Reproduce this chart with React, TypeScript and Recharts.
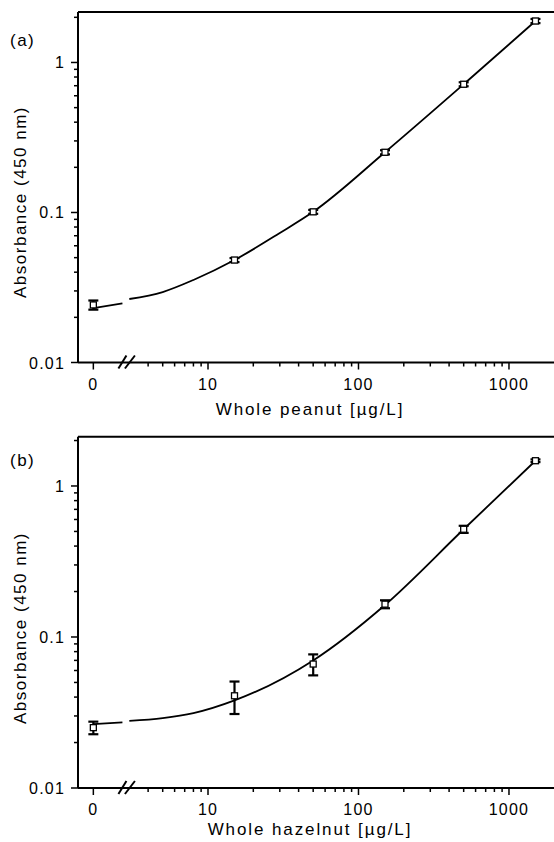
import React from 'react';
import { ComposedChart, Line, Scatter, ErrorBar, XAxis, YAxis, ReferenceLine, ReferenceDot } from 'recharts';

const FONT = '"Liberation Sans", Arial, Helvetica, sans-serif';

// concentrations in µg/L (0 sits left of the axis break)
const conc = [0, 15, 50, 150, 500, 1500];

// (a) whole peanut
const peanutMean = [0.0242, 0.0482, 0.101, 0.252, 0.716, 1.89];
const peanutSd = [0.0017, 0.0015, 0.003, 0.008, 0.022, 0.06];
const peanutFitX = [0, 2.7, 2.85, 3, 5, 8, 15, 30, 50, 150, 500, 1500];
const peanutFitY = [0.023, 0.0248, null, 0.0265, 0.0295, 0.0355, 0.0482, 0.073, 0.101, 0.252, 0.716, 1.89];

// (b) whole hazelnut
const hazelMean = [0.0251, 0.0408, 0.0662, 0.165, 0.517, 1.47];
const hazelSd = [0.0024, 0.0099, 0.0105, 0.01, 0.028, 0.03];
const hazelFitX = [0, 2.7, 2.85, 3, 5, 8, 15, 50, 150, 500, 1500];
const hazelFitY = [0.0265, 0.0272, null, 0.0278, 0.029, 0.0313, 0.038, 0.07, 0.163, 0.517, 1.47];

// axis ticks
const xMajor = [0, 10, 100, 1000];
const xMajorLabels = ['0', '10', '100', '1000'];
const xMinor = [4, 5, 6, 7, 8, 9, 20, 30, 40, 50, 60, 70, 80, 90, 200, 300, 400, 500, 600, 700, 800, 900];
const yMajor = [0.01, 0.1, 1];
const yMajorLabels = ['0.01', '0.1', '1'];
const yMinor = [0.02, 0.03, 0.04, 0.05, 0.06, 0.07, 0.08, 0.09, 0.2, 0.3, 0.4, 0.5, 0.6, 0.7, 0.8, 0.9, 2];

// where "0" is placed on the log axis, and where the break is
const ZERO_POS = 1.73;
const BREAK_AT = 2.87;
const X_DOMAIN = [1.368, 2183];

const pos = (c: number) => (c === 0 ? ZERO_POS : c);

const xTicks = [...xMajor.map(pos), ...xMinor];
const yTicks = [...yMajor, ...yMinor];

const XTick = (props: any) => {
  const { x, y, payload } = props;
  const i = xMajor.map(pos).indexOf(payload.value);
  const major = i >= 0;
  return (
    <g>
      <line x1={x} y1={y} x2={x} y2={y + (major ? 7 : 4)} stroke="#000" strokeWidth={1.5} />
      {major && (
        <text x={x} y={y + 27} textAnchor="middle" fontSize={16} fontFamily={FONT} letterSpacing={1.2} fill="#000">
          {xMajorLabels[i]}
        </text>
      )}
    </g>
  );
};

const YTick = (props: any) => {
  const { x, y, payload } = props;
  const i = yMajor.indexOf(payload.value);
  const major = i >= 0;
  return (
    <g>
      <line x1={x} y1={y} x2={x - (major ? 7 : 4)} y2={y} stroke="#000" strokeWidth={1.5} />
      {major && (
        <text x={x - 13} y={y + 6} textAnchor="end" fontSize={16} fontFamily={FONT} letterSpacing={1.2} fill="#000">
          {yMajorLabels[i]}
        </text>
      )}
    </g>
  );
};

const Square = (props: any) => {
  const { cx, cy } = props;
  if (cx == null || cy == null) return null;
  return <rect x={cx - 3} y={cy - 3} width={6} height={6} fill="#fff" stroke="#000" strokeWidth={1.3} />;
};

const BreakMark = (props: any) => {
  const { cx, cy } = props;
  return (
    <g stroke="#000" strokeWidth={2}>
      <line x1={cx - 8} y1={cy + 6} x2={cx} y2={cy - 7} />
      <line x1={cx - 1.5} y1={cy + 6} x2={cx + 8.5} y2={cy - 7} />
    </g>
  );
};

type PanelProps = {
  tag: string;
  title: string;
  mean: number[];
  sd: number[];
  fitX: number[];
  fitY: (number | null)[];
  yMax: number;
  height: number;
  top: number;
  bottom: number;
  yLabelCenter: number;
  titleOffset: number;
};

const Panel: React.FC<PanelProps> = ({ tag, title, mean, sd, fitX, fitY, yMax, height, top, bottom, yLabelCenter, titleOffset }) => {
  const points = conc.map((c, i) => ({ x: pos(c), y: mean[i], err: sd[i] }));
  const fit = fitX.map((c, i) => ({ x: pos(c), y: fitY[i] }));
  const axisY = height - bottom - 50;

  return (
    <ComposedChart width={600} height={height} margin={{ top, right: 40, bottom, left: 0 }}>
      <XAxis
        dataKey="x"
        type="number"
        scale="log"
        domain={X_DOMAIN}
        allowDataOverflow
        ticks={xTicks}
        interval={0}
        tick={<XTick />}
        tickLine={false}
        tickSize={0}
        tickMargin={0}
        height={50}
        axisLine={{ stroke: '#000', strokeWidth: 2 }}
        label={() => (
          <text x={310} y={axisY + titleOffset} textAnchor="middle" fontSize={17} fontFamily={FONT} letterSpacing={1.9} fill="#000">
            {title}
          </text>
        )}
      />
      <YAxis
        dataKey="y"
        type="number"
        scale="log"
        domain={[0.01, yMax]}
        allowDataOverflow
        ticks={yTicks}
        interval={0}
        tick={<YTick />}
        tickLine={false}
        tickSize={0}
        tickMargin={0}
        width={78}
        axisLine={{ stroke: '#000', strokeWidth: 2 }}
        label={() => (
          <g>
            <text x={10} y={46} fontSize={17} fontFamily={FONT} letterSpacing={1.5} fill="#000">
              {tag}
            </text>
            <text
              x={26}
              y={yLabelCenter}
              transform={`rotate(-90, 26, ${yLabelCenter})`}
              textAnchor="middle"
              fontSize={17}
              fontFamily={FONT}
              letterSpacing={1.5}
              fill="#000"
            >
              Absorbance (450 nm)
            </text>
          </g>
        )}
      />
      <ReferenceLine y={yMax} stroke="#000" strokeWidth={2} />
      <ReferenceDot x={BREAK_AT} y={0.01} ifOverflow="visible" shape={<BreakMark />} />
      <Line
        data={fit}
        dataKey="y"
        type="monotone"
        stroke="#000"
        strokeWidth={1.8}
        dot={false}
        activeDot={false}
        connectNulls={false}
        isAnimationActive={false}
      />
      <Scatter data={points} dataKey="y" shape={<Square />} isAnimationActive={false}>
        <ErrorBar dataKey="err" direction="y" width={5} strokeWidth={2.2} stroke="#000" isAnimationActive={false} />
      </Scatter>
    </ComposedChart>
  );
};

export default function App() {
  return (
    <div style={{ position: 'absolute', left: 0, top: 0, width: 554, height: 842, overflow: 'hidden', background: '#fff' }}>
      <Panel
        tag="(a)"
        title="Whole peanut [µg/L]"
        mean={peanutMean}
        sd={peanutSd}
        fitX={peanutFitX}
        fitY={peanutFitY}
        yMax={2.17}
        height={420}
        top={12}
        bottom={7.5}
        yLabelCenter={202}
        titleOffset={52}
      />
      <Panel
        tag="(b)"
        title="Whole hazelnut [µg/L]"
        mean={hazelMean}
        sd={hazelSd}
        fitX={hazelFitX}
        fitY={hazelFitY}
        yMax={2.12}
        height={422}
        top={16.7}
        bottom={4}
        yLabelCenter={208}
        titleOffset={47}
      />
    </div>
  );
}
